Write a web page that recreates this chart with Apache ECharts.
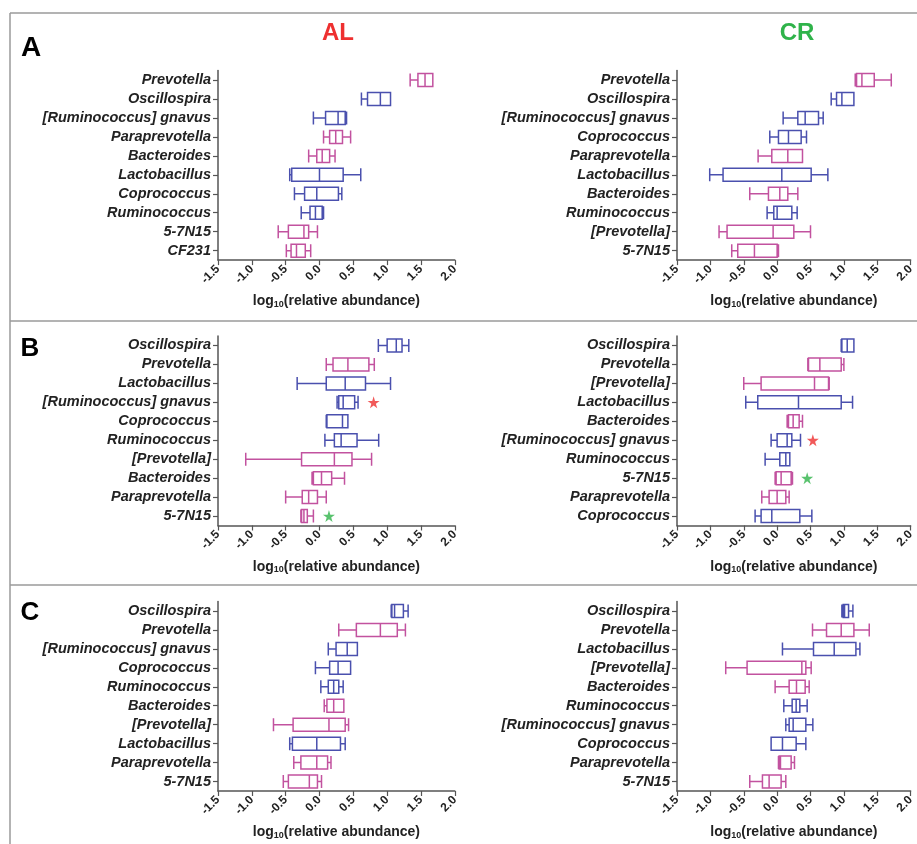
<!DOCTYPE html>
<html>
<head>
<meta charset="utf-8">
<script src="https://cdn.jsdelivr.net/npm/echarts@6/dist/echarts.min.js"></script>
<style>
  html, body { margin: 0; padding: 0; background: #fff; }
  #chart { width: 917px; height: 844px; }
</style>
</head>
<body>
<div id="chart"></div>
<script>
// box stats per genus: [min, q1, median, q3, max] on log10 scale
const aAlNames = ['Prevotella', 'Oscillospira', '[Ruminococcus] gnavus', 'Paraprevotella', 'Bacteroides',
  'Lactobacillus', 'Coprococcus', 'Ruminococcus', '5-7N15', 'CF231']
const aAlStats = [
  [1.34, 1.455, 1.56, 1.675, 1.675],
  [0.62, 0.71, 0.90, 1.05, 1.05],
  [-0.09, 0.09, 0.275, 0.38, 0.40],
  [0.06, 0.15, 0.24, 0.34, 0.46],
  [-0.16, -0.04, 0.04, 0.15, 0.23],
  [-0.44, -0.41, 0.0, 0.35, 0.61],
  [-0.37, -0.22, -0.04, 0.28, 0.33],
  [-0.27, -0.14, -0.06, 0.04, 0.06],
  [-0.61, -0.46, -0.23, -0.16, -0.03],
  [-0.49, -0.42, -0.34, -0.21, -0.13]
]

const aCrNames = ['Prevotella', 'Oscillospira', '[Ruminococcus] gnavus', 'Coprococcus', 'Paraprevotella',
  'Lactobacillus', 'Bacteroides', 'Ruminococcus', '[Prevotella]', '5-7N15']
const aCrStats = [
  [1.17, 1.19, 1.27, 1.455, 1.71],
  [0.81, 0.89, 0.97, 1.15, 1.15],
  [0.09, 0.31, 0.42, 0.62, 0.69],
  [-0.11, 0.02, 0.17, 0.36, 0.44],
  [-0.285, -0.08, 0.16, 0.38, 0.38],
  [-1.01, -0.81, 0.07, 0.51, 0.76],
  [-0.41, -0.13, 0.04, 0.16, 0.31],
  [-0.15, -0.05, 0.0, 0.22, 0.30],
  [-0.87, -0.75, -0.06, 0.25, 0.50],
  [-0.68, -0.59, -0.34, 0.0, 0.02]
]

const bAlNames = ['Oscillospira', 'Prevotella', 'Lactobacillus', '[Ruminococcus] gnavus', 'Coprococcus',
  'Ruminococcus', '[Prevotella]', 'Bacteroides', 'Paraprevotella', '5-7N15']
const bAlStats = [
  [0.87, 1.0, 1.135, 1.22, 1.32],
  [0.10, 0.20, 0.42, 0.73, 0.81],
  [-0.33, 0.10, 0.38, 0.68, 1.05],
  [0.26, 0.285, 0.35, 0.52, 0.57],
  [0.10, 0.11, 0.34, 0.42, 0.42],
  [0.08, 0.22, 0.32, 0.555, 0.875],
  [-1.09, -0.265, 0.22, 0.48, 0.77],
  [-0.11, -0.09, 0.03, 0.18, 0.37],
  [-0.50, -0.255, -0.16, -0.03, 0.10],
  [-0.275, -0.265, -0.23, -0.18, -0.09]
]

const bCrNames = ['Oscillospira', 'Prevotella', '[Prevotella]', 'Lactobacillus', 'Bacteroides',
  '[Ruminococcus] gnavus', 'Ruminococcus', '5-7N15', 'Paraprevotella', 'Coprococcus']
const bCrStats = [
  [0.96, 0.97, 1.05, 1.15, 1.15],
  [0.46, 0.47, 0.64, 0.96, 1.0],
  [-0.50, -0.24, 0.56, 0.77, 0.78],
  [-0.47, -0.29, 0.32, 0.96, 1.13],
  [0.15, 0.17, 0.24, 0.33, 0.38],
  [-0.09, 0.0, 0.15, 0.22, 0.35],
  [-0.18, 0.04, 0.13, 0.19, 0.19],
  [-0.03, -0.015, 0.06, 0.21, 0.23],
  [-0.23, -0.12, 0.0, 0.13, 0.18],
  [-0.33, -0.24, -0.08, 0.34, 0.52]
]

const cAlNames = ['Oscillospira', 'Prevotella', '[Ruminococcus] gnavus', 'Coprococcus', 'Ruminococcus',
  'Bacteroides', '[Prevotella]', 'Lactobacillus', 'Paraprevotella', '5-7N15']
const cAlStats = [
  [1.06, 1.07, 1.11, 1.24, 1.31],
  [0.285, 0.545, 0.90, 1.15, 1.27],
  [0.13, 0.245, 0.41, 0.56, 0.56],
  [-0.06, 0.15, 0.275, 0.46, 0.46],
  [0.02, 0.13, 0.21, 0.285, 0.35],
  [0.07, 0.11, 0.21, 0.36, 0.36],
  [-0.68, -0.39, 0.14, 0.38, 0.43],
  [-0.44, -0.40, -0.04, 0.31, 0.38],
  [-0.38, -0.275, -0.04, 0.12, 0.17],
  [-0.535, -0.46, -0.15, -0.03, 0.03]
]

const cCrNames = ['Oscillospira', 'Prevotella', 'Lactobacillus', '[Prevotella]', 'Bacteroides',
  'Ruminococcus', '[Ruminococcus] gnavus', 'Coprococcus', 'Paraprevotella', '5-7N15']
const cCrStats = [
  [0.97, 0.99, 1.01, 1.07, 1.135],
  [0.53, 0.74, 0.96, 1.15, 1.38],
  [0.08, 0.545, 0.855, 1.18, 1.24],
  [-0.77, -0.45, 0.37, 0.43, 0.51],
  [-0.03, 0.18, 0.29, 0.42, 0.48],
  [0.10, 0.225, 0.285, 0.34, 0.45],
  [0.13, 0.18, 0.24, 0.43, 0.535],
  [-0.09, -0.09, 0.08, 0.285, 0.43],
  [0.02, 0.03, 0.05, 0.21, 0.26],
  [-0.41, -0.22, -0.12, 0.06, 0.13]
]

// significance stars in panel B: [x, category]
const bAlRedStar = [0.80, '[Ruminococcus] gnavus']
const bAlGreenStar = [0.14, '5-7N15']
const bCrRedStar = [0.535, '[Ruminococcus] gnavus']
const bCrGreenStar = [0.45, '5-7N15']

// Bacteroidetes genera drawn magenta, Firmicutes blue
const magentaGenera = ['Prevotella', '[Prevotella]', 'Paraprevotella', 'Bacteroides', '5-7N15', 'CF231']

const MAGENTA = '#c2529f'
const BLUE = '#4a50ae'
const FONT = '"Liberation Sans", Arial, sans-serif'

const panels = [
  { names: aAlNames, stats: aAlStats, left: 218, top: 70.6 },
  { names: aCrNames, stats: aCrStats, left: 677, top: 70.6 },
  { names: bAlNames, stats: bAlStats, left: 218, top: 336 },
  { names: bCrNames, stats: bCrStats, left: 677, top: 336 },
  { names: cAlNames, stats: cAlStats, left: 218, top: 601.5 },
  { names: cCrNames, stats: cCrStats, left: 677, top: 601.5 }
]

const starPath = 'path://M50,0 L61,35 L98,35 L68,57 L79,91 L50,70 L21,91 L32,57 L2,35 L39,35 Z'

const chart = echarts.init(document.getElementById('chart'), null, { renderer: 'canvas' })

const grid = panels.map(p => ({ left: p.left, top: p.top, width: 236.8, height: 189.5 }))

const xAxis = panels.map((p, i) => ({
  gridIndex: i,
  type: 'value',
  min: -1.5,
  max: 2,
  interval: 0.5,
  name: 'log{s|10}(relative abundance)',
  nameLocation: 'middle',
  nameGap: 34,
  nameTextStyle: {
    fontFamily: FONT, fontWeight: 'bold', fontSize: 14, color: '#222',
    rich: { s: { fontFamily: FONT, fontWeight: 'bold', fontSize: 9, color: '#222', verticalAlign: 'bottom', padding: [6, 0, 0, 0] } }
  },
  axisLine: { show: true, onZero: false, lineStyle: { color: '#555', width: 1.5 } },
  axisTick: { show: true, length: 5, lineStyle: { color: '#555', width: 1.2 } },
  axisLabel: {
    rotate: 45, margin: 7, fontFamily: FONT, fontWeight: 'bold', fontSize: 12, color: '#222',
    formatter: v => v.toFixed(1)
  },
  splitLine: { show: false }
}))

const yAxis = panels.map((p, i) => ({
  gridIndex: i,
  type: 'category',
  inverse: true,
  data: p.names,
  axisLine: { show: true, onZero: false, lineStyle: { color: '#555', width: 1.5 } },
  axisTick: { show: true, interval: 0, alignWithLabel: true, length: 5, lineStyle: { color: '#555', width: 1.2 } },
  axisLabel: {
    interval: 0, margin: 7, fontFamily: FONT, fontWeight: 'bold', fontStyle: 'italic', fontSize: 14.5, color: '#222'
  },
  splitLine: { show: false }
}))

const series = panels.map((p, i) => ({
  type: 'boxplot',
  xAxisIndex: i,
  yAxisIndex: i,
  boxWidth: [13, 13],
  animation: false,
  data: p.stats.map((s, k) => {
    const c = magentaGenera.includes(p.names[k]) ? MAGENTA : BLUE
    return { value: s, itemStyle: { color: 'rgba(255,255,255,0)', borderColor: c, borderWidth: 1.5 } }
  })
}))

const starSeries = (idx, pts, color) => ({
  type: 'scatter',
  xAxisIndex: idx,
  yAxisIndex: idx,
  symbol: starPath,
  symbolSize: 12,
  animation: false,
  itemStyle: { color },
  data: [pts]
})
series.push(starSeries(2, bAlRedStar, '#ee3030'))
series.push(starSeries(2, bAlGreenStar, '#2fb34a'))
series.push(starSeries(3, bCrRedStar, '#ee3030'))
series.push(starSeries(3, bCrGreenStar, '#2fb34a'))

const frameLine = (x1, y1, x2, y2) => ({
  type: 'line', shape: { x1, y1, x2, y2 }, style: { stroke: '#9a9a9a', lineWidth: 1.5 }
})
const txt = (text, x, y, size, color, weight) => ({
  type: 'text', x, y,
  style: { text, fill: color, font: `${weight} ${size}px ${FONT}`, textAlign: 'center', textVerticalAlign: 'middle' }
})

const option = {
  animation: false,
  backgroundColor: '#fff',
  grid, xAxis, yAxis, series,
  graphic: [
    frameLine(10, 13, 917, 13),
    frameLine(10, 13, 10, 844),
    frameLine(10, 321, 917, 321),
    frameLine(10, 585, 917, 585),
    txt('AL', 338, 33, 24, '#ee3030', 'bold'),
    txt('CR', 797, 33, 24, '#2fb34a', 'bold'),
    txt('A', 31, 48, 28, '#000', 'bold'),
    txt('B', 30, 349, 26, '#000', 'bold'),
    txt('C', 30, 613, 26, '#000', 'bold')
  ]
}

chart.setOption(option)
</script>
</body>
</html>
